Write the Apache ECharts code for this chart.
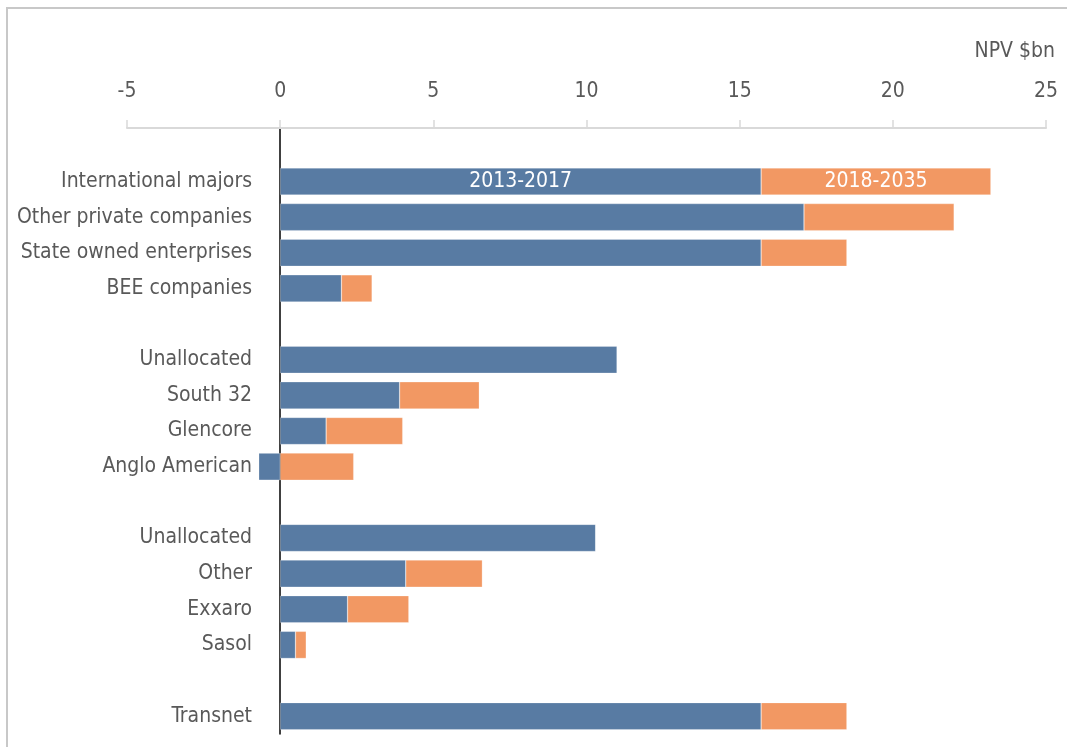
<!DOCTYPE html>
<html>
<head>
<meta charset="utf-8">
<script src="https://cdn.jsdelivr.net/npm/echarts@6/dist/echarts.min.js"></script>
<style>
html,body{margin:0;padding:0;background:#fff;}
#c{width:1067px;height:747px;}
</style>
</head>
<body>
<div id="c"></div>
<script>
const categories = ['', 'International majors', 'Other private companies', 'State owned enterprises', 'BEE companies', '',
  'Unallocated', 'South 32', 'Glencore', 'Anglo American', '',
  'Unallocated', 'Other', 'Exxaro', 'Sasol', '', 'Transnet'];
const period1 = [null, 15.7, 17.1, 15.7, 2.0, null, 11.0, 3.9, 1.5, -0.7, null, 10.3, 4.1, 2.2, 0.5, null, 15.7];
const period2 = [null, 7.5, 4.9, 2.8, 1.0, null, 0, 2.6, 2.5, 2.4, null, 0, 2.5, 2.0, 0.35, null, 2.8];
const seriesNames = ['2013-2017', '2018-2035'];
const xTicks = {min: -5, max: 25, interval: 5};
const axisName = 'NPV $bn';

const FONT = '"DejaVu Sans Condensed", "Liberation Sans Narrow", "Noto Sans", sans-serif';
const chart = echarts.init(document.getElementById('c'));

function withLabel(arr, name) {
  return arr.map((v, i) => i === 1 ? {
    value: v,
    label: {show: true, position: 'inside', formatter: name, color: '#fff', fontSize: 21, fontFamily: FONT}
  } : v);
}

chart.setOption({
  animation: false,
  grid: {left: 127, right: 21, top: 128, bottom: 13, containLabel: false, outerBoundsMode: 'none'},
  xAxis: {
    type: 'value', position: 'top',
    min: xTicks.min, max: xTicks.max, interval: xTicks.interval,
    name: axisName, nameLocation: 'end', nameGap: 9,
    nameTextStyle: {color: '#595959', fontSize: 21, fontFamily: FONT, align: 'right', verticalAlign: 'bottom', padding: [0, 0, 66, 0]},
    axisLine: {show: true, lineStyle: {color: '#d9d9d9', width: 2}},
    axisTick: {show: true, length: 8, lineStyle: {color: '#d9d9d9', width: 1.5}},
    axisLabel: {color: '#595959', fontSize: 21, fontFamily: FONT, margin: 26},
    splitLine: {show: false}
  },
  yAxis: {
    type: 'category', inverse: true, data: categories,
    axisLine: {show: true, onZero: true, lineStyle: {color: '#000', width: 1.5}},
    axisTick: {show: false},
    axisLabel: {color: '#595959', fontSize: 21, fontFamily: FONT, margin: -125, interval: 0, align: 'right'}
  },
  series: [
    {name: seriesNames[0], type: 'bar', stack: 'npv', data: withLabel(period1, seriesNames[0]), barCategoryGap: '24%',
     itemStyle: {color: '#587ba3', borderColor: 'rgba(255,255,255,0.5)', borderWidth: 0.5}},
    {name: seriesNames[1], type: 'bar', stack: 'npv', data: withLabel(period2, seriesNames[1]), barCategoryGap: '24%',
     itemStyle: {color: '#f29863', borderColor: 'rgba(255,255,255,0.5)', borderWidth: 0.5}}
  ],
  graphic: [
    {type: 'line', shape: {x1: 6, y1: 8, x2: 1067, y2: 8}, style: {stroke: '#c8c8c8', lineWidth: 2}},
    {type: 'line', shape: {x1: 7, y1: 8, x2: 7, y2: 747}, style: {stroke: '#c8c8c8', lineWidth: 2}}
  ]
});
</script>
</body>
</html>
